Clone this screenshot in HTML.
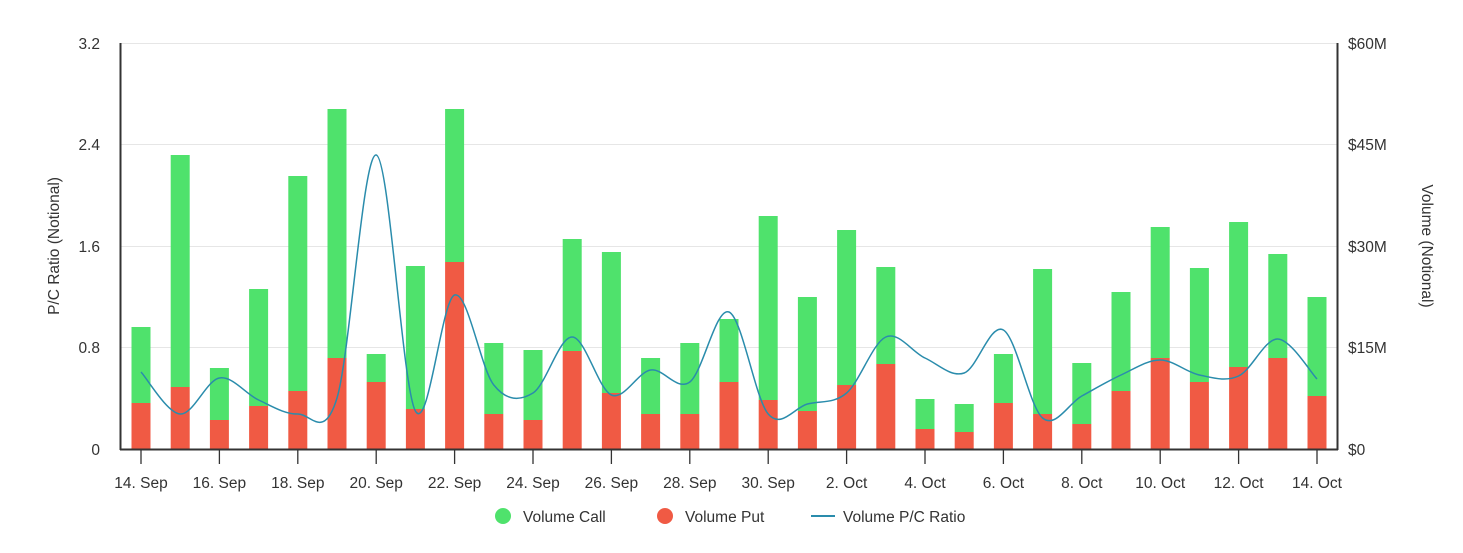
<!DOCTYPE html>
<html><head><meta charset="utf-8"><style>
body{margin:0;background:#fff;width:1463px;height:548px;overflow:hidden}
svg text{font-family:"Liberation Sans",sans-serif;fill:#333;font-size:15.5px}
</style></head><body>
<svg id="c" width="1463" height="548" xmlns="http://www.w3.org/2000/svg">
<g stroke="#e6e6e6" stroke-width="1">
<line x1="121" x2="1337" y1="43.5" y2="43.5"/><line x1="121" x2="1337" y1="144.5" y2="144.5"/>
<line x1="121" x2="1337" y1="246.5" y2="246.5"/><line x1="121" x2="1337" y1="347.5" y2="347.5"/>
</g>
<g id="bars"></g>
<path id="ln" fill="none" stroke="#2a8cac" stroke-width="1.5"/>
<line x1="120" x2="1338" y1="449.5" y2="449.5" stroke="#333" stroke-width="2"/>
<line x1="120.5" x2="120.5" y1="43" y2="450" stroke="#333" stroke-width="2"/>
<line x1="1337.5" x2="1337.5" y1="43" y2="450" stroke="#333" stroke-width="2"/>
<g text-anchor="end">
<text x="100" y="49">3.2</text><text x="100" y="150">2.4</text><text x="100" y="252">1.6</text><text x="100" y="353">0.8</text><text x="100" y="455">0</text>
</g>
<g>
<text x="1348" y="49">$60M</text><text x="1348" y="150">$45M</text><text x="1348" y="252">$30M</text><text x="1348" y="353">$15M</text><text x="1348" y="455">$0</text>
</g>
<text transform="translate(59,246) rotate(-90)" text-anchor="middle">P/C Ratio (Notional)</text>
<text transform="translate(1422,246) rotate(90)" text-anchor="middle">Volume (Notional)</text>
<g id="xl" text-anchor="middle"></g>
<circle cx="503" cy="516" r="8" fill="#4fe26c"/><text x="523" y="522">Volume Call</text>
<circle cx="665" cy="516" r="8" fill="#f05a44"/><text x="685" y="522">Volume Put</text>
<line x1="811" x2="835" y1="516" y2="516" stroke="#2a8cac" stroke-width="2"/><text x="843" y="522">Volume P/C Ratio</text>
</svg>
<script>
var d=[[327,403,372],[155,387,414],[368,420,378],[289,406,400],[176,391,414],[109,358,398],[354,382,155],[266,409,411],[109,262,295],[343,414,385],[350,420,393],[239,351,337],[252,393,395],[358,414,370],[343,414,382],[319,382,312],[216,400,414],[297,411,404],[230,385,393],[267,364,337],[399,429,358],[404,432,373],[354,403,330],[269,414,418],[363,424,396],[292,391,375],[227,358,360],[268,382,375],[222,367,376],[254,358,339],[297,396,379]];
var ns="http://www.w3.org/2000/svg",b=document.getElementById("bars"),xl=document.getElementById("xl");
var lab=["14. Sep","16. Sep","18. Sep","20. Sep","22. Sep","24. Sep","26. Sep","28. Sep","30. Sep","2. Oct","4. Oct","6. Oct","8. Oct","10. Oct","12. Oct","14. Oct"];
var pts=[];
function r(x,y,h,c){var e=document.createElementNS(ns,"rect");e.setAttribute("x",x);e.setAttribute("y",y);e.setAttribute("width",19);e.setAttribute("height",h);e.setAttribute("fill",c);b.appendChild(e);}
d.forEach(function(v,i){var x=141+i*39.2;r(x-9.5,v[0],v[1]-v[0],"#4fe26c");r(x-9.5,v[1],449-v[1],"#f05a44");pts.push([x,v[2]]);
if(i%2==0){var t=document.createElementNS(ns,"text");t.setAttribute("x",x);t.setAttribute("y",488);t.textContent=lab[i/2];xl.appendChild(t);
var tk=document.createElementNS(ns,"line");tk.setAttribute("x1",x);tk.setAttribute("x2",x);tk.setAttribute("y1",450);tk.setAttribute("y2",464);tk.setAttribute("stroke","#333");tk.setAttribute("stroke-width","1.3");xl.appendChild(tk);}});
var p="M"+pts[0][0]+","+pts[0][1];
for(var i=0;i<pts.length-1;i++){var p0=pts[Math.max(0,i-1)],p1=pts[i],p2=pts[i+1],p3=pts[Math.min(pts.length-1,i+2)];
p+=" C"+(p1[0]+(p2[0]-p0[0])/6)+","+(p1[1]+(p2[1]-p0[1])/6)+" "+(p2[0]-(p3[0]-p1[0])/6)+","+(p2[1]-(p3[1]-p1[1])/6)+" "+p2[0]+","+p2[1];}
document.getElementById("ln").setAttribute("d",p);
</script>
</body></html>
